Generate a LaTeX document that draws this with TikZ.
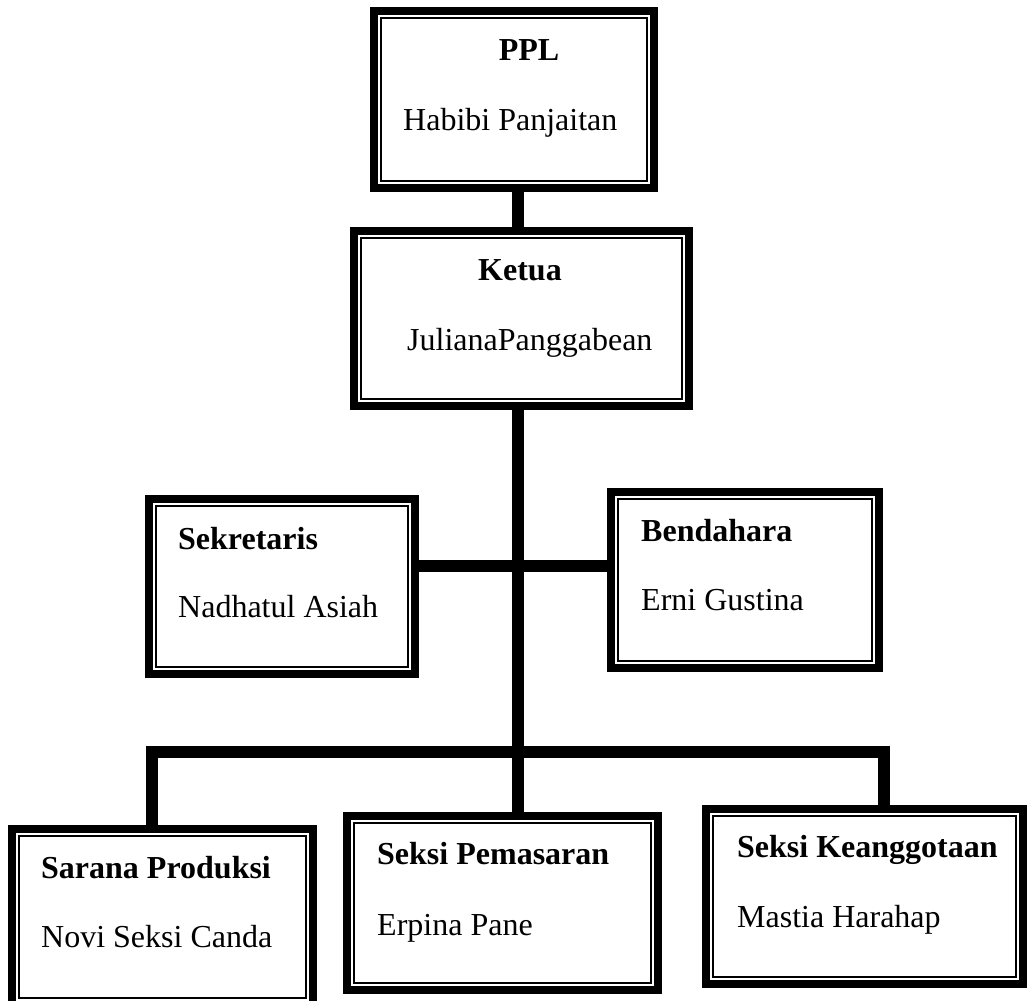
\documentclass[tikz,border=0pt]{standalone}
\usepackage{fontspec}
\setmainfont{Liberation Serif}
\begin{document}
\begin{tikzpicture}[x=1pt,y=-1pt,
  obox/.style={draw, line width=8pt, inner sep=0pt, outer sep=0pt},
  inner/.style={line width=1.5pt},
  conn/.style={line width=12.5pt},
  ttl/.style={font=\fontsize{32}{36}\selectfont\bfseries, inner sep=0pt},
  nme/.style={font=\fontsize{32}{36}\selectfont, inner sep=0pt}]
\useasboundingbox (0,0) rectangle (1029,1001);
\begin{scope}
\clip (0,0) rectangle (1029,1001);
\newcommand\orgbox[5]{%
  \node[obox, minimum width={#4-#2-8}, minimum height={#5-#3-8}] (#1) at ({(#2+#4)/2},{(#3+#5)/2}) {};
  \draw[inner] ([shift={(7pt,7pt)}]#1.south west) rectangle ([shift={(-7pt,-7pt)}]#1.north east);
}
\orgbox{ppl}{370}{7}{658}{192}
\orgbox{ketua}{350}{227}{693}{410}
\orgbox{sek}{145}{495}{419}{678}
\orgbox{bend}{607}{488}{883}{672}
\orgbox{sar}{8}{825}{317}{1009}
\orgbox{pem}{343}{812}{662}{994}
\orgbox{kea}{702}{805}{1027}{988}
% junction coordinates
\coordinate (jm) at (518,566);
\coordinate (jb) at (518,752);
\coordinate (jl) at (152,752);
\coordinate (jr) at (884,752);
% connectors
\draw[conn] (ppl.south -| jm) -- (ketua.north -| jm);
\draw[conn] (ketua.south -| jm) -- (pem.north -| jm);
\draw[conn] (sek.east |- jm) -- (bend.west |- jm);
\draw[conn] (sar.north -| jl) -- (jl) -- (jr) -- (kea.north -| jr);
\end{scope}
% texts
\node[ttl, anchor=base] (t1) at (529,60) {PPL};
\node[nme, anchor=base west] (n1) at (403,130) {Habibi Panjaitan};
\node[ttl, anchor=base] (t2) at (520,280) {Ketua};
\node[nme, anchor=base west] (n2) at (407,350) {JulianaPanggabean};
\node[ttl, anchor=base west] (t3) at (178,549) {Sekretaris};
\node[nme, anchor=base west] (n3) at (178,617) {Nadhatul Asiah};
\node[ttl, anchor=base west] (t4) at (641,541) {Bendahara};
\node[nme, anchor=base west] (n4) at (641,610) {Erni Gustina};
\node[ttl, anchor=base west] (t5) at (41,878) {Sarana Produksi};
\node[nme, anchor=base west] (n5) at (41,947) {Novi Seksi Canda};
\node[ttl, anchor=base west] (t6) at (377,864) {Seksi Pemasaran};
\node[nme, anchor=base west] (n6) at (377,935) {Erpina Pane};
\node[ttl, anchor=base west] (t7) at (737,857) {Seksi Keanggotaan};
\node[nme, anchor=base west] (n7) at (737,927) {Mastia Harahap};
\end{tikzpicture}
\end{document}
